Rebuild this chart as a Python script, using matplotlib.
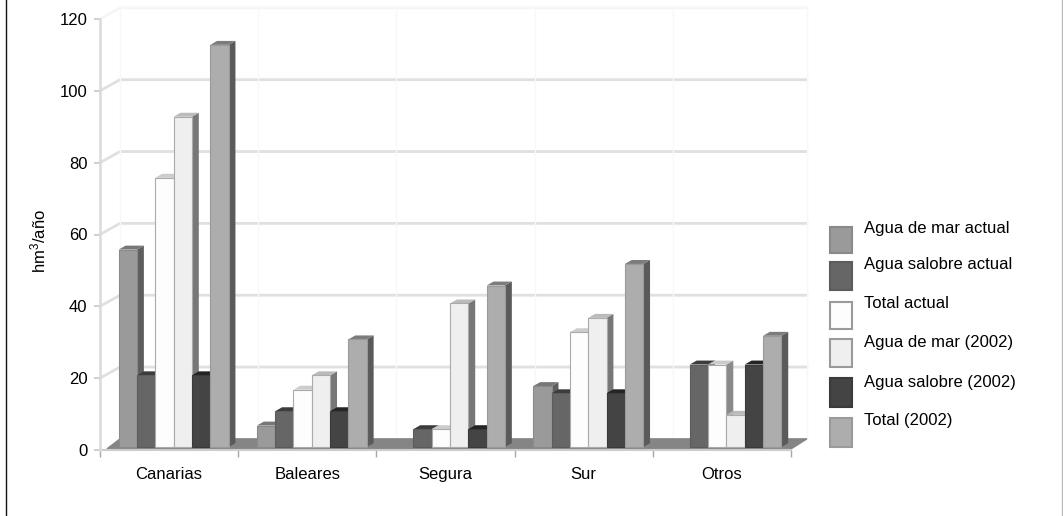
import matplotlib
matplotlib.use("Agg")
from matplotlib import pyplot
from matplotlib.patches import Rectangle

pyplot.rcParams["font.family"] = ["Liberation Sans", "DejaVu Sans"]
pyplot.rcParams["mathtext.default"] = "regular"

WIDTH, HEIGHT = 1063, 516
FONTSIZE = 12

regions = ["Canarias", "Baleares", "Segura", "Sur", "Otros"]
series = [
    "Agua de mar actual",
    "Agua salobre actual",
    "Total actual",
    "Agua de mar (2002)",
    "Agua salobre (2002)",
    "Total (2002)",
]
mar_actual = [55, 6, 0, 17, 0]
salobre_actual = [20, 10, 5, 15, 23]
total_actual = [75, 16, 5, 32, 23]
mar_2002 = [92, 20, 40, 36, 9]
salobre_2002 = [20, 10, 5, 15, 23]
total_2002 = [112, 30, 45, 51, 31]
values = [mar_actual, salobre_actual, total_actual, mar_2002, salobre_2002, total_2002]
yticks = [0, 20, 40, 60, 80, 100, 120]

front = ["#9a9a9a", "#666666", "#fdfdfd", "#efefef", "#444444", "#adadad"]
side = ["#5e5e5e", "#444444", "#8a8a8a", "#777777", "#2c2c2c", "#5a5a5a"]
top = ["#777777", "#3c3c3c", "#cccccc", "#bbbbbb", "#242424", "#7c7c7c"]
edge = ["#8a8a8a", "#5c5c5c", "#aaaaaa", "#aaaaaa", "#3a3a3a", "#9a9a9a"]

# pseudo 3D geometry, in data units
WALL_DX, WALL_DY = 0.145, 3.1
WALL_END = 5.115
BAR_DX, BAR_DY = 0.05, 1.1
BAR_WIDTH = 0.1325
BAR_START = 0.135
BAR_BASE = 0.8

fig = pyplot.figure(figsize=(WIDTH / 100, HEIGHT / 100), dpi=100)
ax = fig.add_axes([100 / WIDTH, 1 - 450 / HEIGHT, 691 / WIDTH, 431 / HEIGHT])
ax.set_xlim(0, 5)
ax.set_ylim(0, 120)
ax.patch.set_visible(False)
for name in ["top", "right", "bottom"]:
    ax.spines[name].set_visible(False)
ax.spines["left"].set_color("#dadada")
ax.spines["left"].set_linewidth(1.8)

# back wall grid
for tick in yticks[1:]:
    color = "#f5f5f5" if tick == 120 else "#e0e0e0"
    ax.plot(
        [0, WALL_DX, WALL_END],
        [tick, tick + WALL_DY, tick + WALL_DY],
        color=color,
        linewidth=2,
        clip_on=False,
        zorder=1,
    )
for i in range(6):
    ax.plot(
        [i + WALL_DX - (0.03 if i == 5 else 0)] * 2,
        [WALL_DY, 120 + WALL_DY],
        color="#f8f8f8",
        linewidth=1,
        clip_on=False,
        zorder=1,
    )

# floor
ax.fill(
    [0.05, 5, WALL_END, WALL_DX],
    [0.3, 0.3, WALL_DY, WALL_DY],
    color="#858585",
    clip_on=False,
    zorder=2,
)
ax.plot([0, 5], [0, 0], color="#cccccc", linewidth=1.5, clip_on=False, zorder=2)

# bars go left to right so each one hides the side of the previous one
zorder = 3
for r in range(len(regions)):
    for s in range(len(series)):
        v = values[s][r]
        if v == 0:
            continue
        x0 = r + BAR_START + s * BAR_WIDTH
        x1 = x0 + BAR_WIDTH
        y1 = BAR_BASE + v
        ax.fill(
            [x1, x1 + BAR_DX, x1 + BAR_DX, x1],
            [BAR_BASE, BAR_BASE + BAR_DY, y1 + BAR_DY, y1],
            color=side[s],
            linewidth=0,
            clip_on=False,
            zorder=zorder,
        )
        ax.fill(
            [x0, x1, x1 + BAR_DX, x0 + BAR_DX],
            [y1, y1, y1 + BAR_DY, y1 + BAR_DY],
            color=top[s],
            linewidth=0,
            clip_on=False,
            zorder=zorder,
        )
        ax.bar(
            x0,
            v,
            width=BAR_WIDTH,
            bottom=BAR_BASE,
            align="edge",
            color=front[s],
            edgecolor=edge[s],
            linewidth=0.8,
            clip_on=False,
            zorder=zorder + 1,
        )
        zorder += 2

ax.set_yticks(yticks)
ax.set_xticks(range(6))
ax.set_xticks([i + 0.5 for i in range(5)], regions, minor=True)
ax.tick_params(axis="y", labelsize=FONTSIZE, length=4, width=1.2, color="#c8c8c8", pad=5)
ax.tick_params(axis="x", which="major", labelbottom=False, length=5, width=1, color="#a8a8a8")
ax.tick_params(axis="x", which="minor", labelsize=FONTSIZE, length=0, pad=12)

fig.text(38 / WIDTH, 1 - 241 / HEIGHT, "hm$^3$/año", rotation=90, fontsize=FONTSIZE, ha="center", va="center")

# legend with the label sitting a little above its swatch
swatch_tops = [227, 262, 302, 339, 378, 418]
swatch_bottoms = [253, 290, 329, 367, 407, 447]
text_centres = [228, 265, 304, 343, 383, 421]
for s in range(len(series)):
    fig.add_artist(
        Rectangle(
            (830 / WIDTH, 1 - swatch_bottoms[s] / HEIGHT),
            22 / WIDTH,
            (swatch_bottoms[s] - swatch_tops[s]) / HEIGHT,
            transform=fig.transFigure,
            facecolor=front[s],
            edgecolor="#9a9a9a" if s in (2, 3) else edge[s],
            linewidth=1.5,
        )
    )
    fig.text(864 / WIDTH, 1 - text_centres[s] / HEIGHT, series[s], fontsize=FONTSIZE, va="center")

# side rules of the page, black on the left and grey on the right
fig.add_artist(
    pyplot.Line2D([5.7 / WIDTH] * 2, [0, 1], transform=fig.transFigure, color="#111111", linewidth=1)
)
fig.add_artist(
    pyplot.Line2D([1062 / WIDTH] * 2, [0, 1], transform=fig.transFigure, color="#b8b8b8", linewidth=1)
)

fig.savefig("out.png", dpi=100)
